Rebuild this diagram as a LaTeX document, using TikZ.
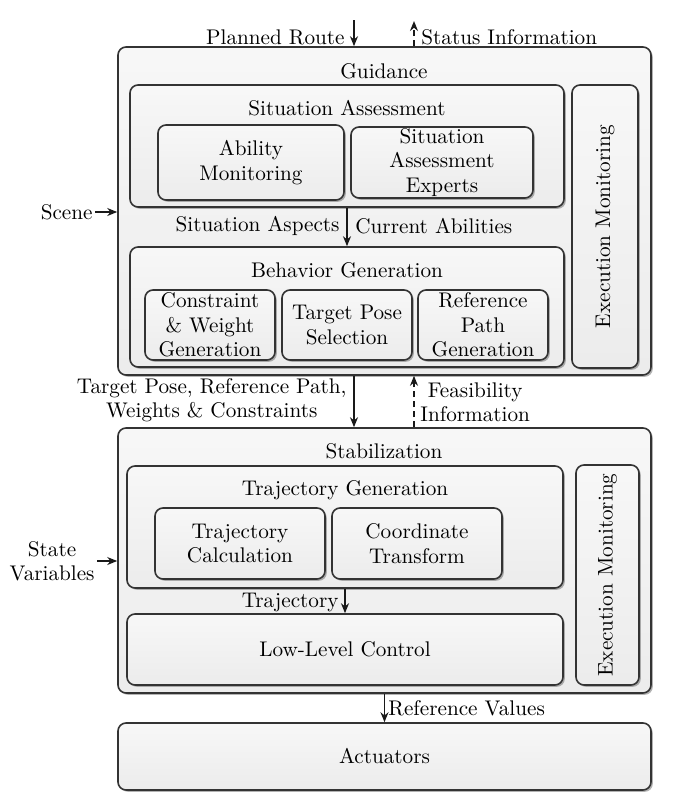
\documentclass[tikz,border=0pt]{standalone}
\usetikzlibrary{shadows,fit,arrows.meta,calc}
\begin{document}
\begin{tikzpicture}[x=0.5pt,y=-0.5pt,
  font=\fontsize{10.6}{12.2}\selectfont,
  blk/.style={draw=black!80, line width=0.8pt, rounded corners=4pt,
    top color=gray!6, bottom color=gray!15,
    drop shadow={shadow xshift=0.9pt, shadow yshift=-0.9pt, opacity=0.5, fill=black!60},
    inner sep=0pt},
  txt/.style={align=center, inner sep=1pt},
  arr/.style={-{Stealth[length=5pt,width=4pt]}, line width=0.7pt, black!90},
  darr/.style={arr, dashed, dash pattern=on 3pt off 2pt}]
\useasboundingbox (0,0) rectangle (697,800);

% Guidance
\node[blk, fit={(118,47) (651,375)}] (guid) {};
\node[txt] (gtitle) at (384,71) {Guidance};
\node[blk, fit={(130,85) (564,207)}] (sa) {};
\node[txt] (satitle) at (347,108) {Situation Assessment};
\node[blk, fit={(160,127) (342,198)}, txt] (am) {};
\node[txt] at (am.center) {Ability\\Monitoring};
\node[blk, fit={(351,127) (533,198)}] (sae) {};
\node[txt] at (sae.center) {Situation\\Assessment\\Experts};
\node[blk, fit={(130,247) (564,367)}] (bg) {};
\node[txt] (bgtitle) at (347,270) {Behavior Generation};
\node[blk, fit={(145,290) (275,360)}] (cwg) {};
\node[txt] at (cwg.center) {Constraint\\\& Weight\\Generation};
\node[blk, fit={(282,290) (412,360)}] (tps) {};
\node[txt] at (tps.center) {Target Pose\\Selection};
\node[blk, fit={(418,290) (548,360)}] (rpg) {};
\node[txt] at (rpg.center) {Reference\\Path\\Generation};
\node[blk, fit={(572,85) (638,368)}] (em1) {};
\node[txt, rotate=90] at (em1.center) {Execution Monitoring};

% Stabilization
\node[blk, fit={(118,428) (651,693)}] (stab) {};
\node[txt] (stitle) at (384,451) {Stabilization};
\node[blk, fit={(127,466) (563,588)}] (tg) {};
\node[txt] (tgtitle) at (345,490) {Trajectory Generation};
\node[blk, fit={(155,508) (325,579)}] (tc) {};
\node[txt] at (tc.center) {Trajectory\\Calculation};
\node[blk, fit={(332,508) (502,579)}] (ct) {};
\node[txt] at (ct.center) {Coordinate\\Transform};
\node[blk, fit={(127,614) (563,685)}] (llc) {};
\node[txt] at (llc.center) {Low-Level Control};
\node[blk, fit={(576,465) (639,685)}] (em2) {};
\node[txt, rotate=90] at (em2.center) {Execution Monitoring};

% Actuators
\node[blk, fit={(118,723) (651,790)}] (act) {};
\node[txt] at (act.center) {Actuators};

% external inputs/outputs
\coordinate (prs) at (354,20);
\coordinate (sis) at (414,21);
\draw[arr] (prs) -- (prs |- guid.north);
\draw[darr] (sis |- guid.north) -- (sis);
\node[txt, anchor=east] (prl) at (347,37) {Planned Route};
\node[txt, anchor=west] (sil) at (419,37) {Status Information};

\node[txt, anchor=east] (scene) at (95,212) {Scene};
\draw[arr] (scene.east) -- (scene.east -| guid.west);

\node[txt, anchor=east] (sv) at (97,561) {State\\Variables};
\draw[arr] (sv.east) -- (sv.east -| stab.west);

% internal connectors
\draw[arr] (sa.south) -- (bg.north);
\node[txt, anchor=east] at (342,226) {Situation Aspects};
\node[txt, anchor=west] at (353,226) {Current Abilities};

\coordinate (dn) at (354,0);
\coordinate (up) at (414,0);
\draw[arr] (dn |- guid.south) -- (dn |- stab.north);
\draw[darr] (up |- stab.north) -- (up |- guid.south);
\node[txt, anchor=east] at (349,400) {Target Pose, Reference Path,\\Weights \& Constraints};
\node[txt, anchor=west] at (418,402) {Feasibility\\Information};

\draw[arr] (tg.south) -- (llc.north);
\node[txt, anchor=east] at (341,602) {Trajectory};

\draw[arr] (stab.south) -- (act.north);
\node[txt, anchor=west] at (386,708) {Reference Values};
\end{tikzpicture}
\end{document}
